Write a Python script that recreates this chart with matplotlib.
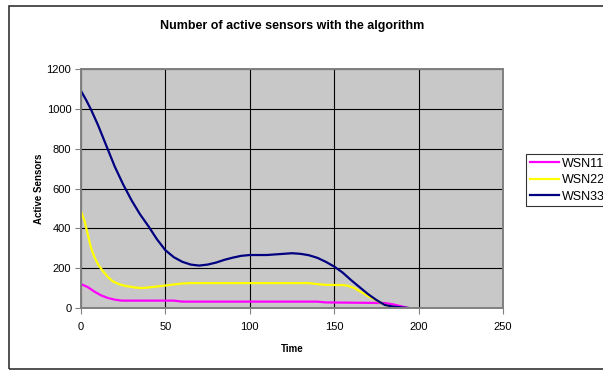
import matplotlib
matplotlib.use("Agg")
import matplotlib.pyplot as plt
from matplotlib.patches import Rectangle

plt.rcParams['font.family'] = ['Liberation Sans', 'DejaVu Sans']

title = "Number of active sensors with the algorithm"
xlabel = "Time"
ylabel = "Active Sensors"

t_wsn33 = [0, 3, 6, 10, 15, 20, 25, 30, 35, 40, 45, 50, 55, 60, 65, 70, 75, 80, 85, 90,
           95, 100, 110, 120, 125, 130, 135, 140, 145, 150, 155, 160, 165, 170, 175, 180,
           185, 190, 194]
v_wsn33 = [1090, 1045, 995, 920, 815, 710, 620, 540, 470, 410, 345, 290, 255, 232, 218,
           213, 218, 228, 242, 253, 262, 266, 266, 272, 275, 272, 265, 252, 232, 208, 178,
           140, 105, 70, 40, 15, 7, 3, 0]

t_wsn22 = [0, 2, 4, 6, 8, 10, 13, 16, 19, 23, 27, 32, 36, 40, 45, 50, 55, 60, 65, 100,
           135, 140, 145, 155, 158, 162, 166, 170, 175, 180, 185, 189]
v_wsn22 = [485, 440, 370, 300, 255, 220, 185, 155, 133, 118, 110, 103, 100, 103, 108,
           113, 118, 123, 125, 125, 125, 120, 116, 115, 112, 100, 80, 60, 38, 15, 5, 0]

t_wsn11 = [0, 4, 8, 12, 16, 20, 24, 55, 60, 140, 145, 180, 185, 190, 194]
v_wsn11 = [120, 105, 82, 63, 50, 42, 37, 37, 32, 32, 28, 25, 18, 8, 0]

series_names = ["WSN11", "WSN22", "WSN33"]
colors = ["#FF00FF", "#FFFF00", "#000080"]

fig = plt.figure(figsize=(6.03, 3.70), dpi=100)
fig.patch.set_facecolor("white")

# outer chart border
W, H = 603.0, 370.0
fig.patches.append(Rectangle((8.5 / W, 1.5 / H), 1.0, 1 - 7 / H, transform=fig.transFigure,
                             fill=False, edgecolor="#333333", linewidth=1.2, clip_on=False))

ax = fig.add_axes([81 / W, 1 - 308 / H, (503 - 81) / W, (308 - 69) / H])
ax.set_facecolor("#C8C8C8")

data = [(t_wsn11, v_wsn11), (t_wsn22, v_wsn22), (t_wsn33, v_wsn33)]
for (t, v), name, c in zip(data, series_names, colors):
    ax.plot(t, v, color=c, lw=1.6, label=name, solid_joinstyle="round")

ax.set_xlim(0, 250)
ax.set_ylim(0, 1200)
ax.set_xticks(range(0, 251, 50))
ax.set_yticks(range(0, 1201, 200))
ax.grid(True, color="black", lw=0.8)
ax.set_axisbelow(True)
for s in ax.spines.values():
    s.set_color("#808080")
    s.set_linewidth(1.4)
ax.tick_params(axis="both", colors="#808080", labelcolor="black", labelsize=8,
               length=4, width=0.8)
ax.tick_params(axis="x", pad=6)
ax.tick_params(axis="y", pad=3)

ax.set_xlabel(xlabel, fontsize=7, fontweight="bold", labelpad=9)
ax.set_ylabel(ylabel, fontsize=7, fontweight="bold", labelpad=2)
fig.text((81 + 503) / 2 / W + 0.0, 1 - 26 / H, title, ha="center", va="center",
         fontsize=9, fontweight="bold")

handles, labels = ax.get_legend_handles_labels()
leg = fig.legend(handles, labels, loc="upper left", bbox_to_anchor=(526 / W, 1 - 154 / H),
                 fontsize=9, frameon=True, fancybox=False, handlelength=2.3,
                 borderpad=0.3, labelspacing=0.35, handletextpad=0.3, borderaxespad=0)
leg.get_frame().set_edgecolor("black")
leg.get_frame().set_linewidth(0.8)

fig.savefig("out.png", dpi=100)
